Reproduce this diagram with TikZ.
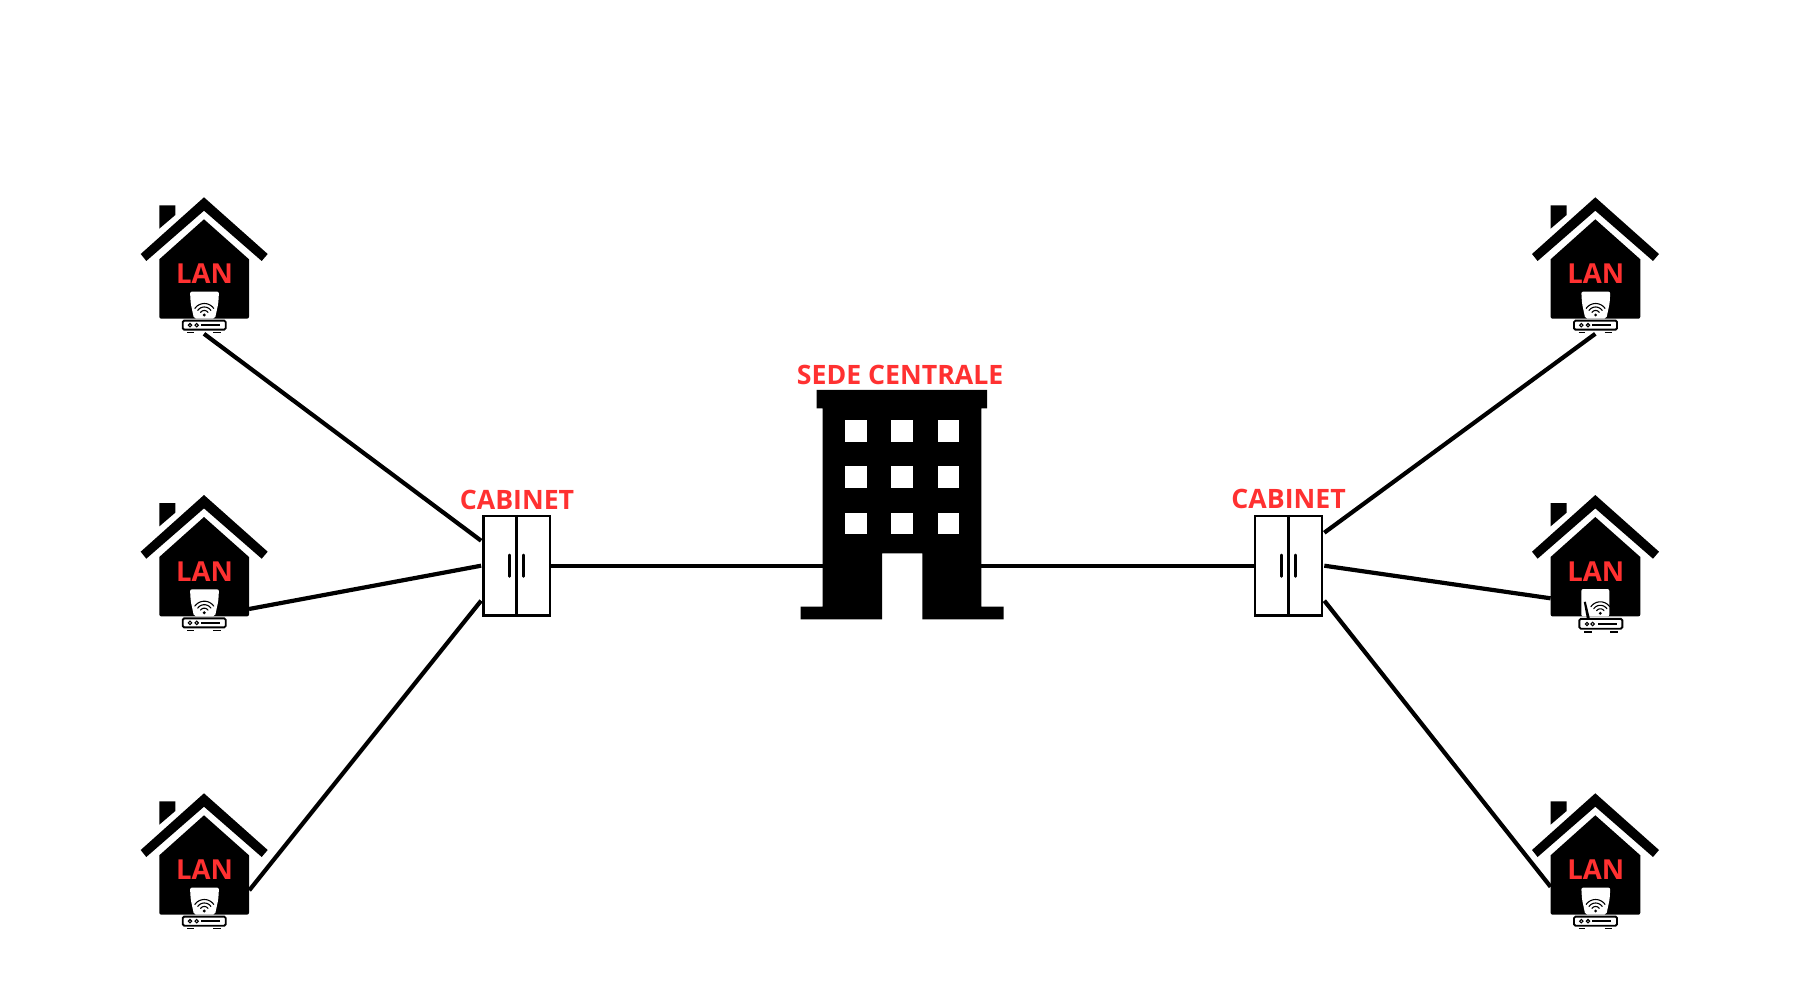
\documentclass[tikz,border=0pt]{standalone}
\usepackage{fontspec}
\setmainfont{Open Sans}
\usetikzlibrary{calc}
\definecolor{labelred}{HTML}{FF3131}
\newcommand{\housebasedraw}{%
    \node[ghost,minimum width=127pt,minimum height=137pt] (-box) at (0,68) {};
    \fill (0,0) -- (63.7,56.7) -- (57.7,63.7) -- (0,13.4) -- (-57.7,63.7) -- (-63.3,56.7) -- cycle;
    \fill (-44.7,8) -- (-28.7,8) -- (-28.7,17.7) -- (-44.7,31.4) -- cycle;
    \fill (0,22) -- (45,62) [rounded corners=2pt] -- (45,121.4) -- (-44.7,121.4) [sharp corners] -- (-44.7,62) -- cycle;
    \node[lantext] (-lan) at (0.5,86) {LAN};
}
\newcommand{\routeradraw}{%
    \fill[white,rounded corners=2pt] (-14,94.3) -- (15,94.3) -- (14.3,106) -- (11,121.4) -- (-10,121.4) -- (-13.3,106) -- cycle;
    \foreach \r in {4.5,8,11.5}{
      \draw[wave] plot[domain=35:145,samples=13] ({0.3+\r*cos(\x)},{117.7-\r*sin(\x)});
    }
    \fill (0.3,117.7) circle[radius=1.6pt];
    \path[routerbody] (-21.3,123.3) rectangle (21.7,132.4);
    \draw[line width=1.1pt] (-14,127.9) circle[radius=1.7pt] (-7.3,127.9) circle[radius=1.7pt];
    \draw[line width=1.6pt] (-3,127.9) -- (16,127.9);
    \draw[line width=1.6pt] (-16.7,135.3) -- (-10,135.3) (9.3,135.3) -- (16.7,135.3);
}
\newcommand{\routerbdraw}{%
    \fill[white,rounded corners=2pt] (-14,94) -- (14,94) -- (14,121.4) -- (-14,121.4) -- cycle;
    \fill (-11.5,107) -- (-9.5,106.7) -- (-5.5,123.3) -- (-8.5,123.3) -- cycle;
    \foreach \r in {4.5,8,11.5}{
      \draw[wave] plot[domain=35:145,samples=13] ({5+\r*cos(\x)},{118.3-\r*sin(\x)});
    }
    \fill (5,118.3) circle[radius=1.6pt];
    \path[routerbody] (-16,123.8) rectangle (27,133.7);
    \draw[line width=1.1pt] (-8.3,129) circle[radius=1.7pt] (-2.7,129) circle[radius=1.7pt];
    \draw[line width=1.6pt] (3,129) -- (22,129);
    \draw[line width=1.6pt] (-11.3,136.7) -- (-3.7,136.7) (14.7,136.7) -- (22.3,136.7);
}
\tikzset{
  x=1pt,y=-1pt,
  link/.style={line width=4.2pt,black},
  labeltext/.style={text=labelred,font=\bfseries\fontsize{26.7}{26.7}\selectfont,inner sep=0pt,anchor=base},
  lantext/.style={labeltext,font=\bfseries\fontsize{27.5}{27.5}\selectfont},
  cabinetbox/.style={draw=black,fill=white,line width=2.5pt,minimum width=66.7pt,minimum height=99.3pt,inner sep=0pt},
  cabinetline/.style={line width=2.5pt,black},
  handle/.style={line width=2.5pt,black,line cap=round},
  ghost/.style={inner sep=0pt,outer sep=0pt},
  wave/.style={line width=1.1pt,line cap=round},
  routerbody/.style={draw=black,fill=white,line width=1.9pt,rounded corners=1.5pt},
  housea/.pic={\housebasedraw \routeradraw},
  houseb/.pic={\housebasedraw \routerbdraw},
}
\begin{document}
\begin{tikzpicture}
\useasboundingbox (0,0) rectangle (1800,1000);
\fill[white] (0,0) rectangle (1800,1000);

% building
\node[ghost,minimum width=158.6pt,minimum height=229.3pt] (bld) at (902,504.65) {};
\fill (816.7,390) -- (987,390) -- (987,408.3) -- (981.3,408.3) -- (981.3,606.7) -- (1003.7,606.7) -- (1003.7,619.3)
  -- (922.3,619.3) -- (922.3,553.3) -- (882,553.3) -- (882,619.3) -- (800.7,619.3) -- (800.7,606.7) -- (822.7,606.7)
  -- (822.7,408.3) -- (816.7,408.3) -- cycle;
\foreach \wx in {845,891.3,937.5}{
  \foreach \wy in {420.3,466.3,512.7}{
    \fill[white] (\wx,\wy) rectangle ++(21.7,21.7);
  }
}
\node[labeltext] (sede) at (900.2,384.3) {SEDE CENTRALE};

% cabinets
\node[cabinetbox] (cabL) at (516.7,565.7) {};
\node[cabinetbox] (cabR) at (1288.5,565.7) {};
\draw[cabinetline] (cabL.north) -- (cabL.south);
\draw[cabinetline] (cabR.north) -- (cabR.south);
\draw[handle] ($(cabL.center)+(-7.4,-10.8)$) -- ($(cabL.center)+(-7.4,10.8)$);
\draw[handle] ($(cabL.center)+(6.6,-10.8)$) -- ($(cabL.center)+(6.6,10.8)$);
\draw[handle] ($(cabR.center)+(-7.2,-10.8)$) -- ($(cabR.center)+(-7.2,10.8)$);
\draw[handle] ($(cabR.center)+(7.2,-10.8)$) -- ($(cabR.center)+(7.2,10.8)$);
\node[labeltext] (cabLtext) at (517,509.3) {CABINET};
\node[labeltext] (cabRtext) at (1288.6,508.8) {CABINET};

% houses
\pic (h1) at (204,197.3) {housea};
\pic (h2) at (204,495) {housea};
\pic (h3) at (204,793.3) {housea};
\pic (r1) at (1595.3,197.3) {housea};
\pic (r2) at (1595.3,495) {houseb};
\pic (r3) at (1595.3,793.3) {housea};

% ports
\coordinate (cabLa) at ($(cabL.west)+(-1,-25)$);
\coordinate (cabLb) at ($(cabL.west)+(-1,0)$);
\coordinate (cabLc) at ($(cabL.west)+(-1,35)$);
\coordinate (cabRa) at ($(cabR.east)+(1.2,-33)$);
\coordinate (cabRb) at ($(cabR.east)+(1.2,0)$);
\coordinate (cabRc) at ($(cabR.east)+(1.2,35)$);
\coordinate (h2p) at ($(h2-box.center)+(45,46)$);
\coordinate (h3p) at ($(h3-box.center)+(45.3,29)$);
\coordinate (r2p) at ($(r2-box.center)+(-44.7,35.3)$);
\coordinate (r3p) at ($(r3-box.center)+(-44.7,25.5)$);

% connectors
\draw[link] (cabL.east) -- (cabL.east -| bld.west);
\draw[link] (cabR.west) -- (cabR.west -| bld.east);
\draw[link] (h1-box.south) -- (cabLa);
\draw[link] (h2p) -- (cabLb);
\draw[link] (h3p) -- (cabLc);
\draw[link] (r1-box.south) -- (cabRa);
\draw[link] (r2p) -- (cabRb);
\draw[link] (r3p) -- (cabRc);
\end{tikzpicture}
\end{document}
